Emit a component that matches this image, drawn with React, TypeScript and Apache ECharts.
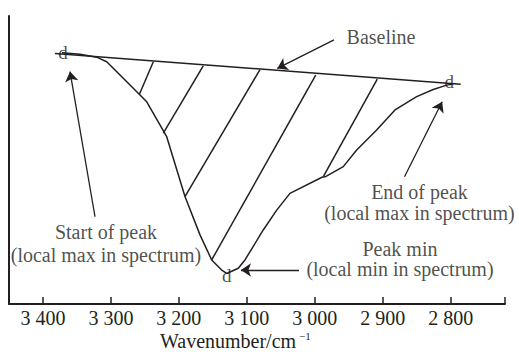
import React, { useEffect, useRef } from "react";
import * as echarts from "echarts";

const INK = "#231f20";
const FONT = "'Liberation Serif', 'Times New Roman', serif";

// IR absorption band: wavenumber (cm⁻¹) against detector signal (%)
const spectrumWavenumber = [
  3372.0, 3345.5, 3320.9, 3306.2, 3286.6, 3257.2, 3247.3, 3227.8, 3217.9, 3191.0,
  3168.9, 3151.7, 3137.0, 3129.6, 3112.5, 3102.7, 3075.8, 3056.0, 3036.5, 2989.4,
  2983.5, 2958.0, 2938.3, 2908.9, 2881.9, 2850.0, 2825.6, 2805.8, 2796.1,
];
const spectrumSignal = [
  87.2, 86.7, 85.7, 84.1, 79.5, 72.6, 70.2, 62.2, 58.1, 37.3,
  24.0, 15.3, 11.8, 10.6, 12.4, 15.3, 25.7, 32.6, 38.4, 44.0,
  44.3, 47.7, 53.5, 60.4, 67.4, 72.0, 74.5, 76.0, 76.4,
];

// Straight baseline joining the two local maxima
const baselineWavenumber = [3382.3, 2785.2];
const baselineSignal = [87.0, 76.3];

// Hatching of the integrated area (baseline end -> spectrum end)
const hatchTopWavenumber = [3237.6, 3164.1, 3080.6, 2998.6, 2908.0];
const hatchTopSignal = [84.1, 82.7, 81.4, 79.5, 78.1];
const hatchBottomWavenumber = [3257.9, 3222.9, 3191.0, 3151.7, 2987.4];
const hatchBottomSignal = [72.9, 59.3, 37.3, 15.3, 44.2];

// Annotation arrows (tail -> head)
const arrowFromWavenumber = [2971.7, 3323.4, 2867.9, 3023.2];
const arrowFromSignal = [91.7, 30.3, 44.2, 11.8];
const arrowToWavenumber = [3055.1, 3360.2, 2812.5, 3108.6];
const arrowToSignal = [81.8, 80.7, 70.2, 11.8];

// Annotation texts
const noteText = [
  "Baseline",
  "Start of peak\n(local max in spectrum)",
  "End of peak\n(local max in spectrum)",
  "Peak min\n(local min in spectrum)",
];
const noteWavenumber = [2902.5, 3307.2, 2845.9, 2874.6];
const noteSignal = [92.6, 20.9, 35.2, 15.5];
const noteLineHeight = [20, 23.4, 21, 20];

const axisTitle = "Wavenumber/cm";
const axisTitleSup = "\u22121";

function tickLabel(v: number): string {
  if (v % 100 !== 0) return "";
  const thousands = Math.floor(v / 1000);
  const rest = String(v % 1000).padStart(3, "0");
  return `${thousands} ${rest}`;
}

export default function App() {
  const ref = useRef<HTMLDivElement>(null);

  useEffect(() => {
    document.body.style.margin = "0";
    if (!ref.current) return;
    const chart = echarts.init(ref.current, null, { renderer: "svg" });

    const spectrum = spectrumWavenumber.map((w, i) => [w, spectrumSignal[i]]);
    let minIdx = 0;
    spectrumSignal.forEach((s, i) => {
      if (s < spectrumSignal[minIdx]) minIdx = i;
    });
    const markerIdx = [0, minIdx, spectrumSignal.length - 1];
    const markerOffset = [
      [1, 0],
      [0, 2.5],
      [-4, -2],
    ];

    chart.setOption({
      animation: false,
      grid: { left: 9, right: 14, top: 16, bottom: 48, outerBoundsMode: "none" },
      xAxis: {
        type: "value",
        inverse: true,
        min: 2720,
        max: 3450,
        minInterval: 100,
        maxInterval: 100,
        axisLine: { show: true, onZero: false, lineStyle: { color: INK, width: 2 } },
        axisTick: { show: true, inside: true, length: 7, lineStyle: { color: INK, width: 1.5 } },
        axisLabel: {
          color: INK,
          fontFamily: FONT,
          fontSize: 20,
          margin: 4,
          formatter: tickLabel,
        },
        splitLine: { show: false },
      },
      yAxis: {
        type: "value",
        min: 0,
        max: 100,
        axisLine: { show: true, onZero: false, lineStyle: { color: INK, width: 2 } },
        axisTick: { show: false },
        axisLabel: { show: false },
        splitLine: { show: false },
      },
      graphic: [
        {
          type: "text",
          left: 160,
          top: 331,
          silent: true,
          style: { text: axisTitle, fill: INK, font: `20px ${FONT}` },
        },
        {
          type: "text",
          left: 299,
          top: 330,
          silent: true,
          style: { text: axisTitleSup, fill: INK, font: `11px ${FONT}` },
        },
      ],
      series: [
        {
          name: "spectrum",
          type: "line",
          data: spectrum,
          symbol: "none",
          silent: true,
          lineStyle: { color: INK, width: 1.5 },
        },
        {
          name: "baseline",
          type: "line",
          data: baselineWavenumber.map((w, i) => [w, baselineSignal[i]]),
          symbol: "none",
          silent: true,
          lineStyle: { color: INK, width: 1.6 },
        },
        {
          name: "hatch",
          type: "lines",
          coordinateSystem: "cartesian2d",
          silent: true,
          symbol: "none",
          lineStyle: { color: INK, width: 1.5, opacity: 1 },
          data: hatchTopWavenumber.map((w, i) => ({
            coords: [
              [w, hatchTopSignal[i]],
              [hatchBottomWavenumber[i], hatchBottomSignal[i]],
            ],
          })),
        },
        {
          name: "arrows",
          type: "lines",
          coordinateSystem: "cartesian2d",
          silent: true,
          symbol: ["none", "arrow"],
          symbolSize: [6, 10],
          lineStyle: { color: INK, width: 1.3, opacity: 1 },
          data: arrowFromWavenumber.map((w, i) => ({
            coords: [
              [w, arrowFromSignal[i]],
              [arrowToWavenumber[i], arrowToSignal[i]],
            ],
          })),
        },
        {
          name: "notes",
          type: "scatter",
          silent: true,
          symbolSize: 0.1,
          itemStyle: { color: "transparent" },
          data: noteText.map((t, i) => ({
            value: [noteWavenumber[i], noteSignal[i]],
            label: {
              show: true,
              position: "inside",
              formatter: t,
              align: "center",
              verticalAlign: "middle",
              color: INK,
              fontFamily: FONT,
              fontSize: 20,
              lineHeight: noteLineHeight[i],
            },
          })),
        },
        {
          name: "markers",
          type: "scatter",
          silent: true,
          symbolSize: 0.1,
          itemStyle: { color: "transparent" },
          data: markerIdx.map((idx, k) => ({
            value: spectrum[idx],
            label: {
              show: true,
              position: "inside",
              formatter: "d",
              offset: markerOffset[k],
              color: INK,
              fontFamily: FONT,
              fontSize: 19,
            },
          })),
        },
      ],
    });

    return () => chart.dispose();
  }, []);

  return <div ref={ref} style={{ width: 519, height: 352 }} />;
}
